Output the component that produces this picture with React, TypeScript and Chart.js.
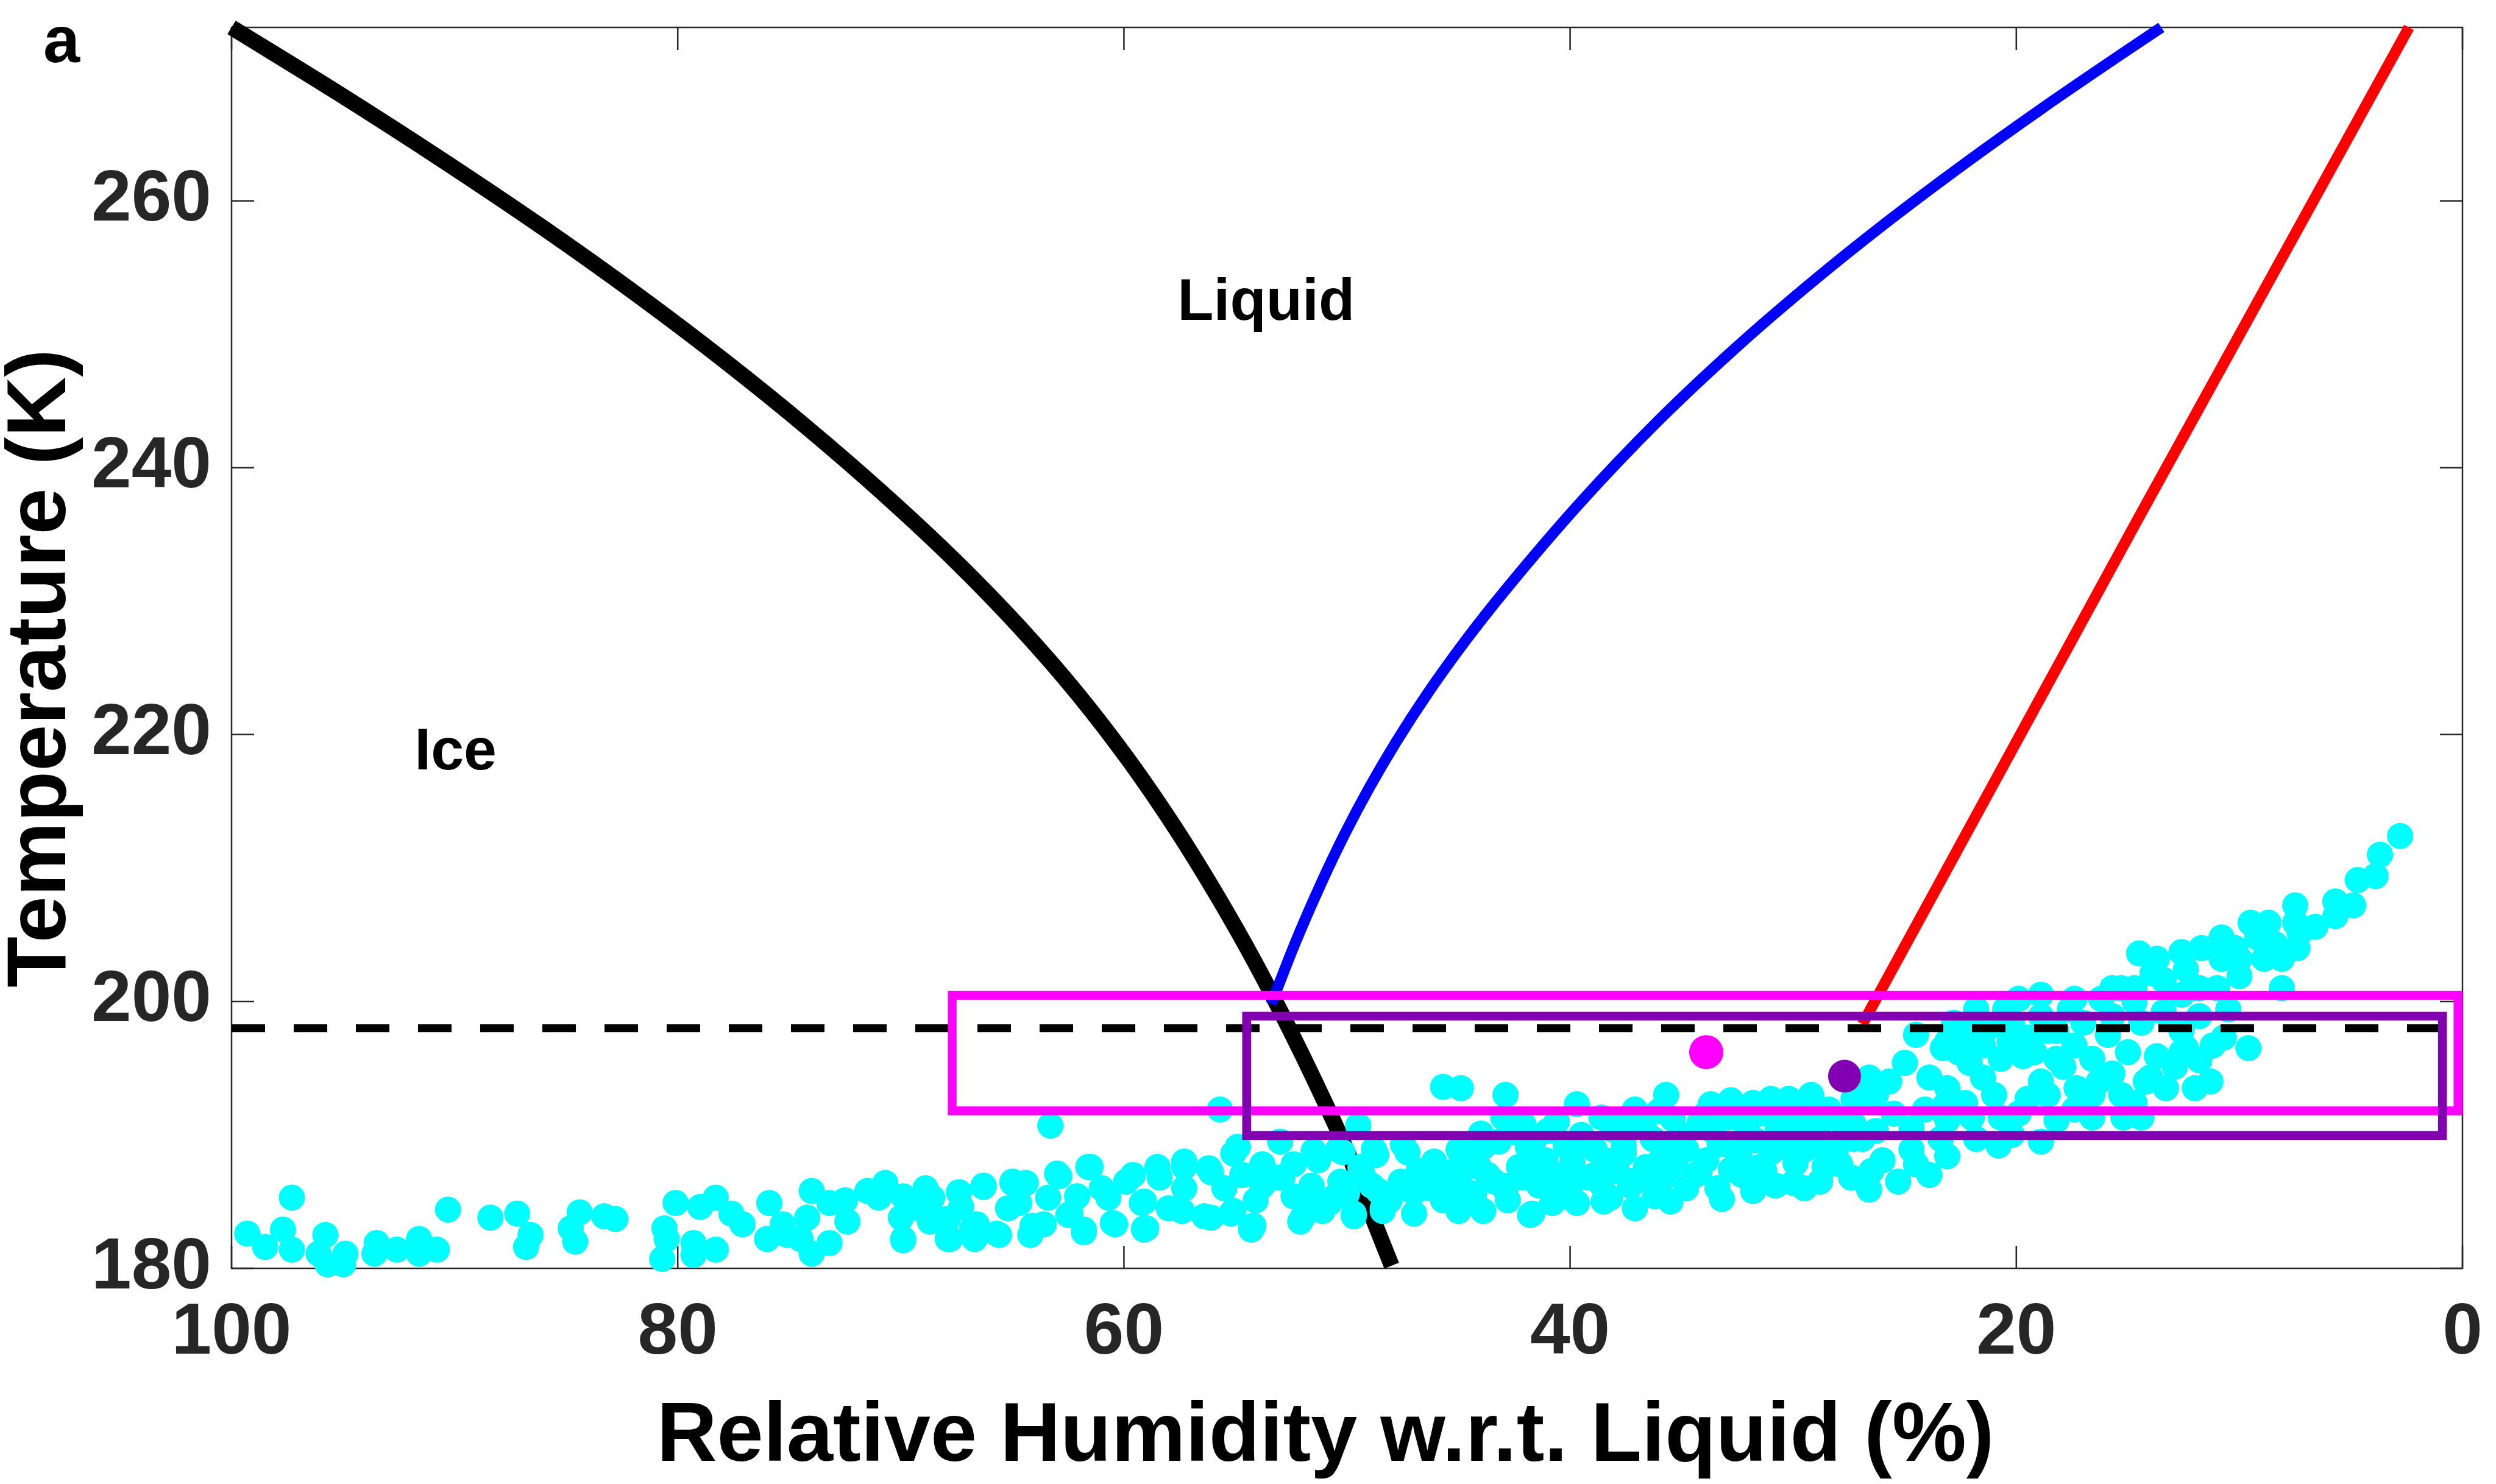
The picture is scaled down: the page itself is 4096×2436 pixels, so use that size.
import React, { useEffect, useRef } from "react";
import { Chart, registerables } from "chart.js";

Chart.register(...registerables);

// ---------- axes ----------
const xTicks = [0, 20, 40, 60, 80, 100];
const yTicks = [180, 200, 220, 240, 260];
const xRange = [0, 100];
const yRange = [180, 273];
const xTitle = "Relative Humidity w.r.t. Liquid (%)";
const yTitle = "Temperature (K)";
const panelLabel = "a";

// ---------- curves (RH %, T K) ----------
const iceRH = [100, 95.15, 90.5, 86.05, 81.85, 77.9, 74.2, 70.75, 67.55, 64.65, 62.05, 59.75, 57.7, 55.85, 54.15, 52.6, 51.15, 49.8, 48.9, 48.0];
const iceT = [273, 268, 263, 258, 253, 248, 243, 238, 233, 228, 223, 218, 213, 208, 203, 198, 193, 188, 184, 180.2];

const blueRH = [53.4, 52.3, 51.2, 50.1, 49.0, 47.8, 46.4, 44.7, 42.9, 39.5, 36.0, 32.6, 29.2, 25.7, 22.3, 18.9, 15.4, 13.5];
const blueT = [199.8, 204.48, 208.71, 212.56, 216.03, 219.45, 223.06, 227.02, 230.84, 237.47, 243.6, 248.95, 253.85, 258.54, 262.81, 266.87, 270.87, 273.0];

const redRH = [26.9, 14.6, 2.4];
const redT = [198.3, 236, 273];

const dashRH = [100, 0];
const dashT = 198;

// ---------- boxes ----------
const magentaBoxRH = [67.7, 0.2];
const magentaBoxT = [191.8, 200.45];
const purpleBoxRH = [54.5, 0.9];
const purpleBoxT = [189.95, 198.9];

// ---------- single points ----------
const magentaPoint = [33.9, 196.2];
const purplePoint = [27.7, 194.4];

// ---------- region labels ----------
const regionLabels = ["Liquid", "Ice"];
const regionLabelRH = [57.6, 91.8];
const regionLabelT = [251.1, 217.4];

// ---------- observations (RH %, T K) ----------
const cyanPoints = [
  [97.3,185.3],[99.3,182.6],[98.5,181.6],[97.7,182.9],[97.3,181.4],[95.8,182.5],[96.1,181.1],[95.7,180.3],
  [95.0,180.3],[94.9,181.1],[93.5,181.9],[93.6,181.1],[92.6,181.4],[91.6,182.2],[91.6,181.1],[90.8,181.4],
  [90.3,184.4],[88.4,183.8],[87.2,184.1],[86.6,182.5],[86.8,181.6],[84.8,183.0],[84.4,184.2],[84.6,182.0],
  [83.3,183.9],[82.8,183.7],[80.7,180.7],[80.6,183.0],[80.1,184.9],[80.5,182.2],[79.0,184.6],[78.3,185.3],
  [79.3,181.9],[79.3,181.0],[78.3,181.4],[77.6,184.1],[77.1,183.3],[75.3,183.3],
  [75.9,184.9],[76.0,182.2],[75.1,182.5],[74.5,182.2],[74.0,185.8],[74.2,183.8],[74.0,181.1],[73.2,184.9],
  [73.2,181.9],[72.4,183.5],[72.5,185.1],[71.5,185.8],[70.7,186.4],[71.0,185.3],[69.9,185.4],[70.0,183.8],
  [69.9,182.2],[68.9,186.0],[68.7,184.9],[68.7,183.5],[67.8,182.2],[67.4,185.7],[67.3,184.6],[66.6,183.3],
  [66.7,182.2],[66.3,186.1],[65.7,182.6],[65.0,186.4],[64.4,186.4],[64.7,184.9],[64.2,182.5],[63.6,183.3],
  [63.3,190.7],[62.9,186.9],[62.4,184.1],[61.8,182.7],[61.5,187.6],[62.1,185.4],[61.0,186.0],[60.4,183.3],
  [59.9,186.5],[59.0,183.0],[59.2,184.9],[58.4,186.8],[57.4,184.3],[57.3,187.6],[56.1,187.2],[56.1,183.8],
  [55.7,191.9],[55.2,184.1],[54.9,189.1],[54.7,187.0],[54.3,183.0],[54.1,185.1],[53.0,189.5],[53.1,186.8],
  [52.4,185.4],[52.1,183.5],[51.3,188.1],[51.4,184.9],
  [69.9,182.1],[67.9,182.2],[59.1,182.9],[54.3,182.9],[41.8,184.0],[49.7,183.9],
  [67.4,185.7],[66.3,186.2],[65.0,186.5],[63.0,187.1],[61.6,187.6],[59.6,187.0],[58.5,187.6],[57.3,188.0],
  [56.2,187.5],[55.1,188.6],[54.9,189.1],[69.2,184.5],[67.9,183.7],[66.8,183.0],[65.6,182.5],[64.1,183.2],
  [62.5,184.0],[61.8,182.9],[60.5,183.4],[59.1,183.0],[58.0,184.5],[56.4,183.9],[55.1,184.3],[54.2,183.2],
  [68.6,185.3],[65.2,184.5],[63.4,185.3],[60.7,185.3],[59.1,185.0],[57.3,186.0],[55.5,186.0],[53.8,186.2],
  [53.8,187.8],
  [52.9,186.8],[51.5,188.8],[50.4,188.9],[48.8,188.9],[47.5,189.3],[46.1,188.0],[45.0,188.9],[43.9,189.1],
  [52.4,187.8],[50.6,185.3],[49.3,187.0],[48.4,184.5],[47.0,185.7],[45.7,187.0],[44.3,185.0],[43.0,186.2],
  [41.6,187.8],[40.5,185.3],[38.9,187.0],[37.6,188.6],[36.2,186.2],[41.9,189.1],[39.8,189.3],[38.5,185.0],
  [37.1,184.5],[35.8,188.9],
  [45.7,193.6],[44.9,193.5],[42.9,193.0],[49.5,190.7],[43.0,191.3],[42.1,190.8],[39.7,192.3],[38.6,191.3],
  [37.1,191.9],[35.7,193.0],[33.7,192.3],[32.8,192.6],[31.8,192.4],[31.0,192.7],[30.2,192.7],[29.2,193.0],
  [30.3,191.1],[28.4,191.9],[27.1,192.7],
  [52.0,183.8],[51.1,184.3],[49.7,184.1],[48.4,184.3],[47.0,184.1],[45.0,184.3],[43.9,184.3],[41.7,184.1],
  [40.8,184.9],[39.7,184.9],[38.2,185.3],[36.2,185.4],[34.8,186.0],[33.4,186.0],[32.3,187.0],[30.8,186.2],
  [30.0,186.4],[28.8,186.5],[27.4,186.8],
  [51.3,188.4],[50.2,188.7],[48.7,188.5],[47.3,188.7],[46.1,187.8],[44.5,188.7],[43.2,189.5],[41.6,189.7],
  [40.2,189.2],[38.9,188.9],[37.6,189.2],[36.3,189.7],[35.0,190.0],[33.6,190.3],[32.1,190.5],[30.7,190.5],
  [29.2,190.8],[27.6,190.8],
  [51.6,186.2],[50.3,186.5],[48.9,186.2],[47.6,186.5],[46.3,186.0],[44.9,186.2],[43.4,186.5],[42.1,186.8],
  [40.7,187.0],[39.2,186.8],[37.9,187.3],[36.6,187.6],[35.3,187.8],[33.9,188.1],[32.4,188.4],[31.0,188.7],
  [29.5,188.9],[28.1,188.9],
  [50.8,184.9],[48.1,185.1],[45.7,185.1],[42.8,185.1],[40.0,185.7],[37.3,186.2],[34.4,187.0],[31.5,187.6],
  [28.6,187.6],
  [49.4,187.6],[46.8,187.3],[44.1,187.6],[41.1,188.1],[38.4,188.1],[35.7,188.7],[32.8,189.2],[29.9,189.7],
  [27.3,189.7],
  [50.0,185.6],[48.6,185.8],[47.2,185.9],[45.8,186.0],[44.3,185.6],[42.9,185.9],[41.4,186.2],[40.0,186.4],
  [38.6,186.3],[37.1,186.6],[35.7,186.9],[34.2,187.2],[32.8,187.4],[31.3,187.3],[29.9,187.9],[28.4,188.0],
  [41.0,190.3],[39.5,190.0],[38.1,190.4],[36.7,190.6],[35.4,191.2],[34.2,190.9],[32.9,191.3],[31.5,191.6],
  [30.2,190.0],[28.9,190.3],[33.2,185.2],[35.5,185.0],[31.8,185.8],[29.5,186.0],
  [44.0,190.1],[42.6,190.2],[40.6,191.0],[37.5,191.2],[36.0,191.8],[33.9,191.6],[32.4,191.9],[30.8,191.9],
  [29.6,191.6],[28.0,191.2],
  [45.2,187.3],[43.7,187.0],[42.3,187.6],[39.9,187.9],[38.1,187.7],[36.0,188.0],[34.8,188.9],[33.3,189.3],
  [31.7,189.6],[30.4,189.2],[28.7,189.1],[27.9,187.8],
  [2.8,212.4],[3.7,211.0],[3.9,209.4],[4.7,209.1],[4.9,207.2],[5.7,206.4],[5.7,207.5],[7.5,207.2],
  [7.5,205.9],[7.4,204.0],[7.3,205.1],[8.7,205.9],[9.5,205.9],[10.0,201.9],[8.1,201.0],[8.1,203.2],
  [8.9,203.2],[10.2,204.0],[11.7,204.0],[10.8,203.2],[12.4,202.4],[13.7,203.2],[14.5,203.6],[13.4,201.6],
  [14.7,201.0],[15.3,201.0],[16.2,200.2],[14.7,200.0],[12.6,200.5],[11.8,201.0],[10.5,199.4],[9.6,196.5],
  [10.7,197.3],[11.3,194.0],[12.0,193.5],[12.6,196.2],[13.3,193.5],[13.7,195.9],[15.0,196.2],[15.9,197.5],
  [16.6,195.7],[17.4,196.7],[17.6,199.4],[18.9,200.5],[19.9,200.2],[20.5,199.4],[21.2,198.1],[22.1,197.3],
  [22.8,198.4],[23.1,197.0],[23.3,196.5],[24.5,197.5],[25.0,195.4],[25.7,194.0],[26.6,194.3],[27.3,192.7],
  [23.1,193.5],[23.2,192.2],[22.1,195.4],[21.5,194.3],[20.7,195.7],[19.7,195.9],[18.9,194.0],[17.9,195.1],
  [17.3,193.5],[16.3,194.0],[15.3,193.0],[14.7,192.4],[16.6,191.3],[15.2,191.3],[18.2,191.1],[19.5,192.7],
  [20.7,191.3],[18.9,189.5],[20.8,189.2],[21.8,189.7],[20.2,190.0],[23.1,188.4],[24.5,187.8],[25.3,186.5],
  [26.5,187.3],[27.4,186.8],[26.3,190.3],[24.7,190.5],[24.1,191.9],[23.1,191.1],[22.0,191.3],[27.3,190.8],
  [12.4,196.5],[11.2,196.7],[14.4,191.3],[18.6,197.8],[19.5,197.3],[20.7,198.4],[21.8,199.4],[18.2,195.7],
  [14.0,194.3],[12.6,197.8],[11.8,198.9],
  [26.3,193.0],[25.5,191.6],[23.9,194.3],[22.6,196.2],[21.5,196.7],[20.3,197.0],[19.2,196.2],[18.2,197.8],
  [17.0,198.4],[15.7,198.9],[14.4,198.4],[13.4,199.2],[12.1,201.0],[11.0,201.0],[10.0,203.2],[9.2,204.8],
  [8.4,204.3],[6.6,205.6],[10.8,204.8],[12.6,203.7],[13.9,202.1],[15.7,201.0],[17.4,200.2],[18.9,198.9],
  [20.2,198.4],[21.8,198.9],[21.0,193.0],[22.3,192.4],[19.9,191.6],[17.4,191.9],[18.6,193.0],[16.6,193.0],
  [15.7,194.6],[14.2,194.0],[12.9,195.1],[11.8,195.6],[24.7,188.9],[23.4,189.7],[26.0,188.1],[26.9,189.7],
  [23.9,187.0],[26.6,185.9]
];

const FONT = "'Liberation Sans', Arial, Helvetica, sans-serif";

const toXY = (xs: number[], ys: number[]) => xs.map((x, i) => ({ x, y: ys[i] }));
const rectPath = (rx: number[], ty: number[]) => [
  { x: rx[0], y: ty[0] },
  { x: rx[1], y: ty[0] },
  { x: rx[1], y: ty[1] },
  { x: rx[0], y: ty[1] },
  { x: rx[0], y: ty[0] },
];

const framePlugin = {
  id: "matlabFrame",
  beforeDatasetsDraw(chart: any) {
    const { ctx, chartArea, scales } = chart;
    const { left, right, top, bottom } = chartArea;
    const tick = 37;
    ctx.save();
    ctx.strokeStyle = "#262626";
    ctx.lineWidth = 2.5;
    ctx.strokeRect(left, top, right - left, bottom - top);
    ctx.beginPath();
    xTicks.forEach((v) => {
      const p = scales.x.getPixelForValue(v);
      ctx.moveTo(p, bottom);
      ctx.lineTo(p, bottom - tick);
      ctx.moveTo(p, top);
      ctx.lineTo(p, top + tick);
    });
    yTicks.forEach((v) => {
      const p = scales.y.getPixelForValue(v);
      ctx.moveTo(left, p);
      ctx.lineTo(left + tick, p);
      ctx.moveTo(right, p);
      ctx.lineTo(right - tick, p);
    });
    ctx.stroke();
    ctx.restore();
  },
  afterDraw(chart: any) {
    const { ctx, scales } = chart;
    ctx.save();
    ctx.fillStyle = "#000000";
    ctx.font = `bold 137px ${FONT}`;
    ctx.textAlign = "center";
    ctx.textBaseline = "alphabetic";
    ctx.fillText(xTitle, 2175, 2398);
    ctx.save();
    ctx.translate(107, 1097);
    ctx.rotate(-Math.PI / 2);
    ctx.fillText(yTitle, 0, 0);
    ctx.restore();
    ctx.font = `bold 108px ${FONT}`;
    ctx.textAlign = "left";
    ctx.fillText(panelLabel, 71, 102);
    ctx.font = `bold 97px ${FONT}`;
    regionLabels.forEach((t, i) => {
      ctx.fillText(t, scales.x.getPixelForValue(regionLabelRH[i]), scales.y.getPixelForValue(regionLabelT[i]));
    });
    ctx.restore();
  },
};

export default function App() {
  const canvasRef = useRef<HTMLCanvasElement | null>(null);

  useEffect(() => {
    document.body.style.margin = "0";
    const canvas = canvasRef.current;
    if (!canvas) return;
    const lineBase = { showLine: true, pointRadius: 0, fill: false, clip: false as any };
    const chart = new Chart(canvas, {
      type: "scatter",
      data: {
        datasets: [
          {
            ...lineBase,
            label: "Ice saturation",
            data: toXY(iceRH, iceT),
            borderColor: "#000000",
            borderWidth: 26,
            cubicInterpolationMode: "monotone",
            order: 8,
          },
          {
            ...lineBase,
            label: "Homogeneous freezing",
            data: toXY(blueRH, blueT),
            borderColor: "#0000FF",
            borderWidth: 18,
            cubicInterpolationMode: "monotone",
            order: 7,
          },
          {
            ...lineBase,
            label: "Red",
            data: toXY(redRH, redT),
            borderColor: "#FF0000",
            borderWidth: 18,
            tension: 0,
            order: 6,
          },
          {
            label: "Observations",
            data: cyanPoints.map(([x, y]) => ({ x, y })),
            backgroundColor: "#00FFFF",
            borderWidth: 0,
            pointRadius: 21.5,
            pointHoverRadius: 21.5,
            clip: false as any,
            order: 5,
          },
          {
            ...lineBase,
            label: "Dashed",
            data: dashRH.map((x) => ({ x, y: dashT })),
            borderColor: "#000000",
            borderWidth: 13,
            borderDash: [55, 47],
            borderCapStyle: "butt",
            order: 4,
          },
          {
            ...lineBase,
            label: "Magenta box",
            data: rectPath(magentaBoxRH, magentaBoxT),
            borderColor: "#FF00FF",
            borderWidth: 14.5,
            borderJoinStyle: "miter",
            borderCapStyle: "square",
            order: 3,
          },
          {
            ...lineBase,
            label: "Purple box",
            data: rectPath(purpleBoxRH, purpleBoxT),
            borderColor: "rgb(128,0,178)",
            borderWidth: 14.5,
            borderJoinStyle: "miter",
            borderCapStyle: "square",
            order: 2,
          },
          {
            label: "Magenta point",
            data: [{ x: magentaPoint[0], y: magentaPoint[1] }],
            backgroundColor: "#FF00FF",
            borderWidth: 0,
            pointRadius: 28,
            clip: false as any,
            order: 1,
          },
          {
            label: "Purple point",
            data: [{ x: purplePoint[0], y: purplePoint[1] }],
            backgroundColor: "rgb(128,0,178)",
            borderWidth: 0,
            pointRadius: 27,
            clip: false as any,
            order: 0,
          },
        ] as any,
      },
      options: {
        animation: false,
        responsive: false,
        maintainAspectRatio: false,
        devicePixelRatio: 1,
        events: [],
        layout: { padding: { left: 0, right: 55, top: 45, bottom: 0 } },
        plugins: { legend: { display: false }, tooltip: { enabled: false } },
        scales: {
          x: {
            type: "linear",
            reverse: true,
            min: xRange[0],
            max: xRange[1],
            afterBuildTicks: (s: any) => {
              s.ticks = xTicks.map((value) => ({ value }));
            },
            afterFit: (s: any) => {
              s.height = 354;
              s.paddingLeft = 0;
              s.paddingRight = 0;
            },
            grid: { display: false, drawTicks: false },
            border: { display: false },
            ticks: {
              padding: 37,
              color: "#262626",
              autoSkip: false,
              maxRotation: 0,
              font: { family: FONT, size: 118, weight: "bold" },
            },
          },
          y: {
            type: "linear",
            min: yRange[0],
            max: yRange[1],
            afterBuildTicks: (s: any) => {
              s.ticks = yTicks.map((value) => ({ value }));
            },
            afterFit: (s: any) => {
              s.width = 380;
              s.paddingTop = 0;
              s.paddingBottom = 0;
            },
            grid: { display: false, drawTicks: false },
            border: { display: false },
            ticks: {
              padding: 33,
              color: "#262626",
              autoSkip: false,
              font: { family: FONT, size: 118, weight: "bold" },
            },
          },
        },
      } as any,
      plugins: [framePlugin],
    });
    return () => chart.destroy();
  }, []);

  return (
    <div style={{ width: 4096, height: 2436, background: "#ffffff" }}>
      <canvas ref={canvasRef} width={4096} height={2436} style={{ display: "block", width: 4096, height: 2436 }} />
    </div>
  );
}
